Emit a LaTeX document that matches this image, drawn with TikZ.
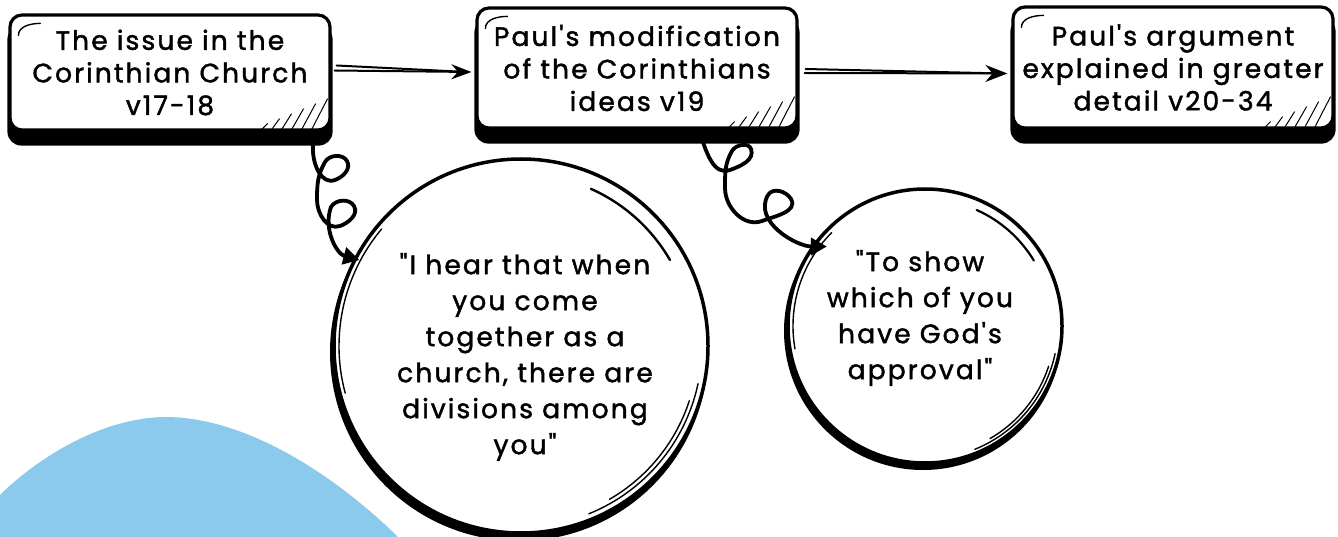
\documentclass[tikz,border=0pt]{standalone}
\usepackage{fontspec}
\setmainfont{Poppins}[Ligatures=TeXOff, FakeBold=1.6, LetterSpace=8]
\usetikzlibrary{arrows.meta,calc}
\pgfdeclarelayer{blob}
\pgfdeclarelayer{bg}
\pgfsetlayers{blob,bg,main}
\definecolor{sky}{HTML}{8BCAEC}
\tikzset{
  sbox/.style={draw=black, line width=3.2pt, fill=white, rounded corners=12pt,
    minimum width=320pt, align=center, inner sep=0pt,
    font=\fontsize{26.5}{32.5}\selectfont},
  sround/.style={circle, draw=black, line width=3.5pt, fill=white, inner sep=0pt},
  qtext/.style={align=center, inner sep=0pt, font=\fontsize{26.5}{36}\selectfont},
  shade/.style={fill=black, rounded corners=14pt},
  curl/.style={line width=3.8pt, line cap=round, -{Triangle[length=16pt,width=17pt]}},
  sline/.style={line width=2pt, line cap=round},
  sketch/.style={line width=1.4pt, line cap=round},
  hatch/.style={line width=1pt},
}
\begin{document}
\begin{tikzpicture}[x=1pt,y=1pt]
\useasboundingbox (0,0) rectangle (1338,-537);
% background blob
\begin{pgfonlayer}{blob}
\fill[sky] (0,-495) .. controls (30,-465) and (95,-418) .. (165,-417)
  .. controls (250,-417) and (340,-480) .. (398,-537) -- (0,-537) -- cycle;
\end{pgfonlayer}

% boxes
\node[sbox, minimum height=115pt] (b1) at (170,-72.5) {The issue in the\\Corinthian Church\\v17-18};
\node[sbox, minimum height=120pt] (b2) at (637,-68) {Paul's modification\\of the Corinthians\\ideas v19};
\node[sbox, minimum height=121pt] (b3) at (1173,-67.5) {Paul's argument\\explained in greater\\detail v20-34};

% circles
\node[sround, minimum size=374pt] (c1) at (521,-346) {};
\node[sround, minimum size=274pt] (c2) at (925,-326) {};
\node[qtext] (t1) at (525,-357) {"I hear that when\\you come\\together as a\\church, there are\\divisions among\\you"};
\node[qtext] (t2) at (920,-318) {"To show\\which of you\\have God's\\approval"};

\begin{pgfonlayer}{bg}
\foreach \b in {b1,b2,b3}{
  \fill[shade] ($(\b.north west)+(-1,-12)$) rectangle ($(\b.south east)+(1,-14)$);
}
\fill ($(c1.center)+(-2,-6)$) circle (189);
\fill ($(c2.center)+(-2,-5)$) circle (139);
\end{pgfonlayer}

% box decorations
\foreach \b in {b1,b2,b3}{
  \draw[sketch] ($(\b.north west)+(10,-22)$) .. controls +(0,9) and +(-10,0) .. ($(\b.north west)+(32,-10)$);
  \foreach \i in {0,...,5}{
    \draw[hatch] ($(\b.south east)+(-70+10*\i,2)$) -- ++(6+2*\i,6+5*\i);
  }
}

% circle sketch strokes
\draw[line width=2.4pt, line cap=round] ($(c1.center)+(66:172)$) arc[start angle=66, end angle=30, radius=172];
\draw[sketch] ($(c1.center)+(140:182)$) arc[start angle=140, end angle=195, radius=182];
\draw[sketch] ($(c1.center)+(-12:181)$) arc[start angle=-12, end angle=-68, radius=181];
\draw[sketch] ($(c1.center)+(-18:177)$) arc[start angle=-18, end angle=-60, radius=177];
\draw[line width=2.2pt, line cap=round] ($(c2.center)+(66:127)$) arc[start angle=66, end angle=31, radius=127];
\draw[sketch] ($(c2.center)+(135:132)$) arc[start angle=135, end angle=190, radius=132];
\draw[sketch] ($(c2.center)+(-12:133)$) arc[start angle=-12, end angle=-68, radius=133];
\draw[sketch] ($(c2.center)+(-18:130)$) arc[start angle=-18, end angle=-60, radius=130];

% straight arrows
\draw[sline] ([xshift=5pt,yshift=7pt]b1.east) -- ([xshift=-8pt,yshift=-4pt]b2.west);
\draw[sline, -{Stealth[length=20pt,width=15pt]}] ([xshift=3pt,yshift=2pt]b1.east) -- ([xshift=-4pt,yshift=-4pt]b2.west);
\draw[sline] ([xshift=7pt,yshift=-1pt]b2.east) -- ([xshift=-8pt,yshift=-6pt]b3.west);
\draw[sline, -{Stealth[length=22pt,width=17pt]}] ([xshift=6pt,yshift=-5pt]b2.east) -- ([xshift=-4pt,yshift=-6pt]b3.west);

% curly connectors
\draw[curl] ([xshift=-19pt,yshift=-8pt]b1.south east)
  -- (313,-150) to[out=-90,in=200] (335,-180) to[out=20,in=-60] (347,-161)
  to[out=120,in=60] (325,-162) to[out=-120,in=90] (317,-200)
  to[out=-90,in=200] (340,-226) to[out=20,in=-60] (354,-206)
  to[out=120,in=60] (331,-207) to[out=-110,in=165] ($(c1.center)!0.97!(c1.152)$);
\draw[curl] ([xshift=-98pt,yshift=-6pt]b2.south east)
  to[out=-70,in=200] (730,-170) to[out=20,in=-70] (751,-149)
  to[out=110,in=60] (732,-151) to[out=-120,in=90] (725,-188)
  to[out=-90,in=200] (762,-221) to[out=20,in=-60] (791,-199)
  to[out=120,in=60] (768,-195) to[out=-120,in=180] ($(c2.center)!0.91!(c2.141)$);
\end{tikzpicture}
\end{document}
